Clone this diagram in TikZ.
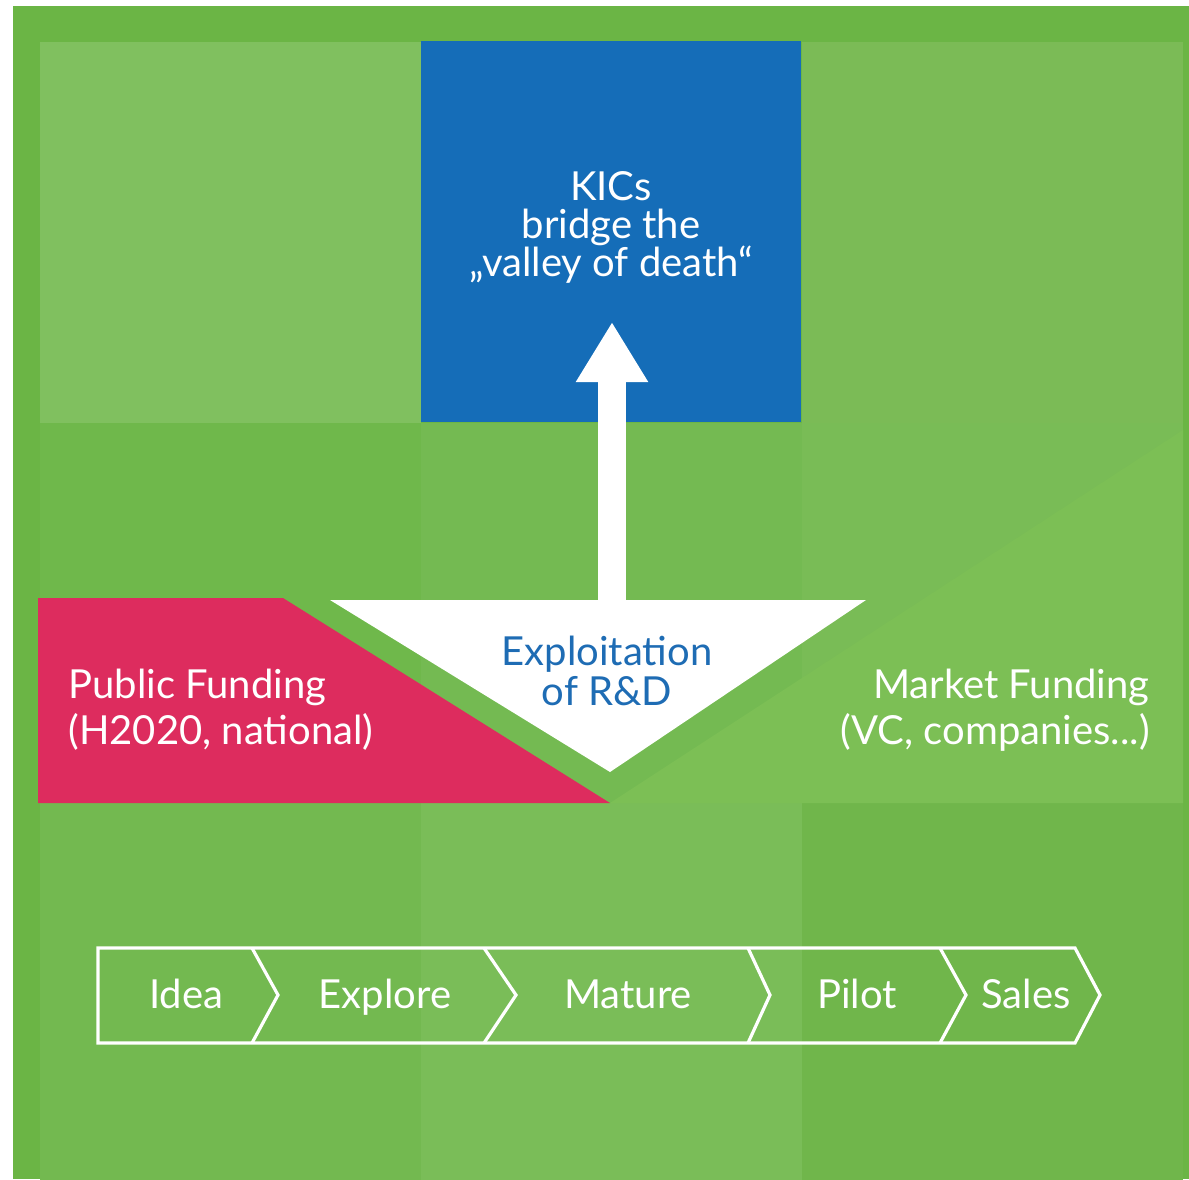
\documentclass[tikz,border=0pt]{standalone}
\usepackage{fontspec}
\setmainfont{Lato}
\usetikzlibrary{arrows.meta}
\definecolor{frame}{HTML}{6BB545}
\definecolor{kicblue}{HTML}{156DB8}
\definecolor{textblue}{HTML}{1E6CB4}
\definecolor{public}{HTML}{DD2C5E}
\definecolor{market}{HTML}{7CBF55}
\tikzset{
  label/.style={text=white,align=center,inner sep=0pt},
  stage/.style={text=white,inner sep=0pt,anchor=base,font=\fontsize{20}{22}\selectfont},
  chevron/.style={draw=white,line width=1.6pt,line join=miter}
}
\begin{document}
\begin{tikzpicture}[x=0.5pt,y=-0.5pt]
\useasboundingbox (0,0) rectangle (1189,1179);
\fill[white] (0,0) rectangle (1189,1179);
\fill[frame] (13,6) rectangle (1189,1179);
% background grid
\foreach \col/\row/\shade in {0/0/80C05F,2/0/7BBB56,0/1/6FB84B,1/1/74BA52,2/1/79BC56,0/2/73B950,1/2/7ABD58,2/2/70B64B}{
  \definecolor{tmp}{HTML}{\shade}
  \fill[tmp] (40+381*\col,42+380.5*\row) rectangle (40+381*\col+381,42+380.5*\row+380.5);
}
% blue box
\fill[kicblue] (421,41) rectangle (801,422);
\node[label,font=\fontsize{20}{19}\selectfont] (kics) at (611,227) {KICs\\bridge the\\„valley of death“};
% funding shapes
\fill[public] (38,598) -- (283,598) -- (610,803) -- (38,803) -- cycle;
\fill[market] (610,803) -- (1183,430) -- (1183,803) -- cycle;
\node[label,align=left,anchor=west,font=\fontsize{20}{23}\selectfont] (public) at (68,710) {Public Funding\\(H2020, national)};
\node[label,align=right,anchor=east,font=\fontsize{20}{23}\selectfont] (market) at (1150,710) {Market Funding\\(VC, companies...)};
% exploitation triangle
\fill[white] (330,600) -- (866,600) -- (610,772) -- cycle;
\node[label,text=textblue,font=\fontsize{20}{20}\selectfont] (rd) at (607,671) {Exploitation\\of R\&D};
\coordinate (base) at (612,601);
\coordinate (tip) at (612,322);
\draw[white,line width=14pt,-{Triangle[length=30pt,width=34pt]}] (base) -- (tip);
% innovation stages
\draw[chevron] (98,948) -- (1075,948) -- (1100,995) -- (1075,1043) -- (98,1043) -- cycle;
\foreach \x/\t in {252/278,484/516,748/770,940/966}
\draw[chevron] (\x,948) -- (\t,995) -- (\x,1043);
\node[stage] (idea) at (186,1008) {Idea};
\node[stage] (explore) at (385,1008) {Explore};
\node[stage] (mature) at (628,1008) {Mature};
\node[stage] (pilot) at (857,1008) {Pilot};
\node[stage] (sales) at (1026,1008) {Sales};
\end{tikzpicture}
\end{document}
